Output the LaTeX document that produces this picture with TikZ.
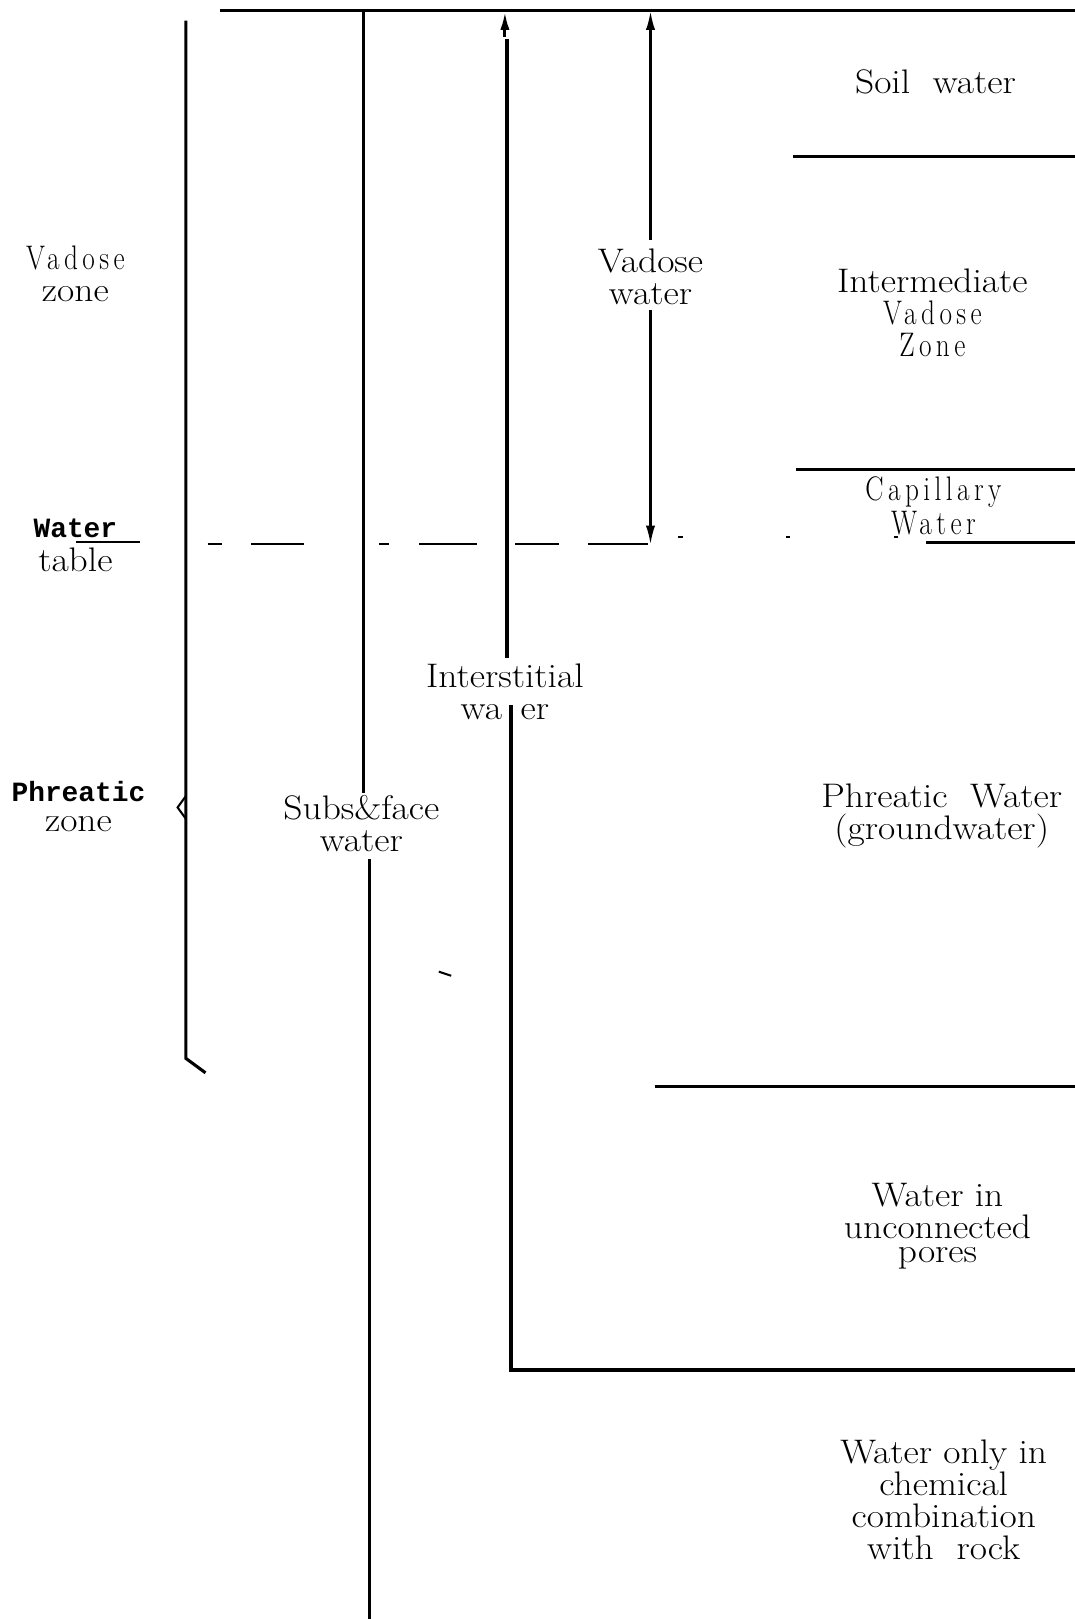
\documentclass[tikz,border=0pt]{standalone}
\usepackage{fontspec}
\setmainfont[FakeStretch=1.1]{Latin Modern Roman}
\newfontfamily\spacedfont[FakeStretch=0.8,LetterSpace=13]{Latin Modern Roman}
\newfontfamily\heavymono{Liberation Mono}
\usetikzlibrary{arrows.meta}

\begin{document}
\begin{tikzpicture}[x=0.5pt,y=-0.5pt,
  rule/.style={line width=1.5pt},
  fine rule/.style={line width=1pt},
  heavy rule/.style={line width=2.2pt},
  dashpiece/.style={line width=1.3pt},
  lbl/.style={font=\fontsize{16.5}{15.5}\selectfont, align=center, inner sep=0pt},
  tagword/.style={font=\heavymono\bfseries\fontsize{13.5}{14}\selectfont, inner sep=0pt},
  tip/.style={-{Latex[length=9pt,width=4.5pt]}},
]
\useasboundingbox (0,0) rectangle (1041,1568);

% ground surface
\draw[rule] (213,10) -- (1041,10);

% zone bracket on the left
\draw[rule] (180,20) -- (180,1025) -- (199,1039);
\draw[fine rule] (180,771) -- (172,782) -- (180,793);

% labels on the left
\node[lbl] (vz) at (73,265) {{\spacedfont Vadose}\\zone};
\node[tagword] (wt1) at (73,512) {Water};
\node[lbl] (wt2) at (73,542) {table};
\node[tagword] (pz1) at (76,767) {Phreatic};
\node[lbl] (pz2) at (76,798) {zone};
\coordinate (ul1) at (74,525);
\coordinate (ul2) at (136,525);
\draw[fine rule] (ul1) -- (ul2);

% subsurface water
\node[lbl] (ssw) at (350,798) {Subs\&face\\water};
\draw[rule] (352,10) -- (352,768);
\draw[rule] (358,832) -- (358,1568);

% interstitial water
\node[lbl] (isw) at (489,670) {Interstitial\\wa\hspace{9pt}er};
\draw[rule, tip] (489,36) -- (489,11);
\draw[rule] (491,38) -- (491,637);
\draw[heavy rule] (495,683) -- (495,1327) -- (1041,1327);

% vadose water
\node[lbl] (vw) at (630,268) {Vadose\\water};
\draw[fine rule, tip] (630,232) -- (630,11);
\draw[fine rule, tip] (630,300) -- (630,527);

% water table
\foreach \a/\b in {201/215, 243/294, 367/377, 406/462, 499/541, 569/628}
  \draw[dashpiece] (\a,527) -- (\b,527);
\foreach \a in {657, 761, 866}
  \draw[dashpiece] (\a,520) -- (\a+4,520);

% divisions on the right
\draw[rule] (768,152) -- (1041,152);
\draw[rule] (771,455) -- (1041,455);
\draw[rule] (897,525) -- (1041,525);
\draw[rule] (634,1052) -- (1041,1052);

\node[lbl] (soil) at (906,79) {Soil~~water};
\node[lbl] (inter) at (903,303) {Intermediate\\{\spacedfont Vadose}\\{\spacedfont Zone}};
\node[lbl] (cap) at (904,490) {{\spacedfont Capillary}\\[1pt]{\spacedfont Water}};
\node[lbl] (phw) at (912,790) {Phreatic~ Water\\(groundwater)};
\node[lbl] (unc1) at (908,1157) {Water in};
\node[lbl] (unc2) at (908,1188) {unconnected};
\node[lbl] (unc3) at (908,1219) {pores};
\node[lbl] (chem) at (914,1453) {Water only in\\chemical\\combination\\with~ rock};

% stray mark
\draw[fine rule] (425,941) -- (431,943) -- (437,945);
\end{tikzpicture}
\end{document}
